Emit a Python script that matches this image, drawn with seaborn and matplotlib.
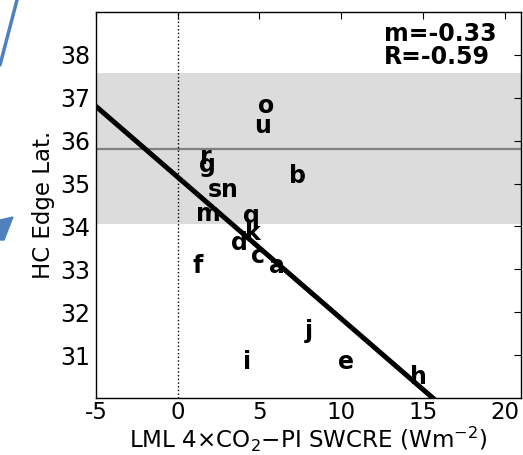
import numpy as np
import matplotlib
matplotlib.use("Agg")
import matplotlib.pyplot as plt
import seaborn as sns
from matplotlib.lines import Line2D
from matplotlib.patches import Polygon

# Model identifiers and their (SWCRE change, Hadley-cell edge latitude)
models = ["o", "u", "b", "r", "g", "s", "n", "m", "q", "k",
          "d", "c", "a", "f", "j", "e", "h", "i"]
swcre = [5.39, 5.18, 7.32, 1.73, 1.83, 2.24, 3.15, 1.89, 4.51, 4.57,
         3.76, 4.92, 6.04, 1.22, 7.99, 10.3, 14.74, 4.27]
edge_lat = [36.80, 36.35, 35.17, 35.63, 35.44, 34.86, 34.84, 34.29, 34.24, 33.85,
            33.62, 33.31, 33.08, 33.08, 31.57, 30.85, 30.48, 30.83]

# Regression summary and observational range
slope = -0.33
intercept = 35.15
r_value = -0.59
obs_mean = 35.8
obs_low = 34.05
obs_high = 37.57

x_ticks = [-5, 0, 5, 10, 15, 20]
y_ticks = [31, 32, 33, 34, 35, 36, 37, 38]

sns.set_style("white")
plt.rcParams["font.family"] = ["DejaVu Sans"]
plt.rcParams["axes.unicode_minus"] = False
plt.rcParams["mathtext.fontset"] = "dejavusans"
for key in ("text.color", "axes.labelcolor", "xtick.color", "ytick.color", "axes.edgecolor"):
    plt.rcParams[key] = "black"

W, H = 523, 455
fig = plt.figure(figsize=(W / 100, H / 100), dpi=100)
ax = fig.add_axes([96 / W, (H - 398) / H, (521 - 96) / W, (398 - 12) / H])

ax.axhspan(obs_low, obs_high, color="#dcdcdc", lw=0, zorder=0)
ax.axhline(obs_mean, color="#808080", lw=1.6, zorder=1)
ax.axvline(0, color="black", ls=":", lw=1.0, zorder=1)

fit_x = np.array([-5.0, 21.0])
sns.lineplot(x=fit_x, y=intercept + slope * fit_x, ax=ax, color="black", lw=3.6, zorder=3)

for name, x, y in zip(models, swcre, edge_lat):
    ax.text(x, y, name, ha="center", va="center", fontsize=17,
            fontweight="bold", color="black", zorder=4)

ax.text(0.678, 0.974, f"m={slope:.2f}\nR={r_value:.2f}", transform=ax.transAxes,
        ha="left", va="top", multialignment="left", fontsize=17,
        fontweight="bold", color="black", linespacing=0.92, zorder=5)

ax.set_xlim(-5, 21)
ax.set_ylim(30, 39)
ax.set_xticks(x_ticks)
ax.set_yticks(y_ticks)
ax.tick_params(direction="in", top=True, right=True, length=5, width=0.8,
               labelsize=17, pad=4, colors="black")
ax.tick_params(axis="x", labelsize=16.5, pad=2.5)
for sp in ax.spines.values():
    sp.set_color("black")
    sp.set_linewidth(1.0)

ax.set_xlabel(r"LML 4$\times$CO$_2$$-$PI SWCRE (Wm$^{-2}$)", fontsize=16.6)
ax.xaxis.set_label_coords(0.5, -0.069)
ax.set_ylabel("HC Edge Lat.", fontsize=16.5, labelpad=4)

# Blue connector fragments at the left edge
blue = "#4f81bd"
fig.add_artist(Line2D([17 / W, 0], [1, 1 - 65 / H], color=blue, lw=2.5,
                      transform=fig.transFigure))
pts = [(13, 217), (0, 220), (0, 240), (4, 240)]
fig.add_artist(Polygon([(px / W, 1 - py / H) for px, py in pts], closed=True,
                       color=blue, transform=fig.transFigure))

fig.savefig("out.png", dpi=100)
